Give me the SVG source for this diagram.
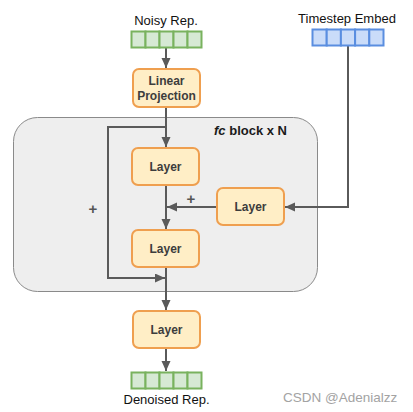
<svg xmlns="http://www.w3.org/2000/svg" width="413" height="412" viewBox="0 0 413 412">
<style>
.lbl{font-family:"Liberation Sans",Arial,sans-serif;font-size:13px;fill:#111;text-anchor:middle}
.box{fill:#ffeec6;stroke:#ef9f4f;stroke-width:2}
.bt{font-family:"Liberation Sans",Arial,sans-serif;font-size:12px;font-weight:bold;fill:#3d3d3d;text-anchor:middle}
.gc{fill:#d6e9d4;stroke:#79b25e;stroke-width:2}
.bc{fill:#cadcf9;stroke:#5a8ee0;stroke-width:2}
.ln{fill:none;stroke:#5a5a5a;stroke-width:2}
.plus{font-family:"Liberation Sans",Arial,sans-serif;font-size:15px;font-weight:bold;fill:#555;text-anchor:middle}
</style>
<defs>
<marker id="ah" markerUnits="userSpaceOnUse" markerWidth="11" markerHeight="10" refX="10" refY="4.5" orient="auto">
<path d="M0,0 L10,4.5 L0,9 z" fill="#5a5a5a"/>
</marker>
</defs>
<rect width="413" height="412" fill="#fff"/>
<g id="fc-block">
<rect x="13.5" y="117.5" width="304" height="174" rx="24" fill="#eeeeee" stroke="#8a8a8a" stroke-width="1"/>
<text x="287" y="135" font-family="'Liberation Sans',Arial,sans-serif" font-size="13" font-weight="bold" fill="#1a1a1a" text-anchor="end"><tspan font-style="italic">fc</tspan> block x N</text>
</g>
<g id="connectors">
<path class="ln" d="M166,47.5 V68" marker-end="url(#ah)"/>
<path class="ln" d="M166,107 V147" marker-end="url(#ah)"/>
<path class="ln" d="M166,127 H108 V278 H165" marker-end="url(#ah)"/>
<path class="ln" d="M166,185 V229" marker-end="url(#ah)"/>
<path class="ln" d="M217,207 H167" marker-end="url(#ah)"/>
<path class="ln" d="M348,45.5 V207 H285" marker-end="url(#ah)"/>
<path class="ln" d="M166,267 V310" marker-end="url(#ah)"/>
<path class="ln" d="M166,348 V371" marker-end="url(#ah)"/>
<text class="plus" x="191" y="204">+</text>
<text class="plus" x="93" y="214">+</text>
</g>
<g id="noisy-rep">
<text class="lbl" x="166" y="25">Noisy Rep.</text>
<rect class="gc" x="131.5" y="31.5" width="14" height="16"/>
<rect class="gc" x="145.5" y="31.5" width="14" height="16"/>
<rect class="gc" x="159.5" y="31.5" width="14" height="16"/>
<rect class="gc" x="173.5" y="31.5" width="14" height="16"/>
<rect class="gc" x="187.5" y="31.5" width="14" height="16"/>
</g>
<g id="timestep-embed">
<text class="lbl" x="347" y="23">Timestep Embed</text>
<rect class="bc" x="312.5" y="29.5" width="14.2" height="16"/>
<rect class="bc" x="326.7" y="29.5" width="14.2" height="16"/>
<rect class="bc" x="340.9" y="29.5" width="14.2" height="16"/>
<rect class="bc" x="355.1" y="29.5" width="14.2" height="16"/>
<rect class="bc" x="369.3" y="29.5" width="14.2" height="16"/>
</g>
<g id="linear-projection">
<rect class="box" x="133" y="69" width="67" height="38" rx="6"/>
<text class="bt" x="166.5" y="85">Linear</text>
<text class="bt" x="166.5" y="100">Projection</text>
</g>
<g id="layer1">
<rect class="box" x="132" y="148" width="67" height="37" rx="6"/>
<text class="bt" x="165.5" y="171">Layer</text>
</g>
<g id="layer2">
<rect class="box" x="217" y="188" width="67" height="37" rx="6"/>
<text class="bt" x="250.5" y="211">Layer</text>
</g>
<g id="layer3">
<rect class="box" x="132" y="230" width="67" height="37" rx="6"/>
<text class="bt" x="165.5" y="253">Layer</text>
</g>
<g id="layer4">
<rect class="box" x="133" y="311" width="67" height="37" rx="6"/>
<text class="bt" x="166.5" y="334">Layer</text>
</g>
<g id="denoised-rep">
<rect class="gc" x="131.5" y="372.5" width="14" height="16"/>
<rect class="gc" x="145.5" y="372.5" width="14" height="16"/>
<rect class="gc" x="159.5" y="372.5" width="14" height="16"/>
<rect class="gc" x="173.5" y="372.5" width="14" height="16"/>
<rect class="gc" x="187.5" y="372.5" width="14" height="16"/>
<text class="lbl" x="166.5" y="404">Denoised Rep.</text>
</g>
<text x="283" y="401.5" font-family="'Liberation Sans',Arial,sans-serif" font-size="13.5" fill="#a3a3a3">CSDN @Adenialzz</text>
</svg>
